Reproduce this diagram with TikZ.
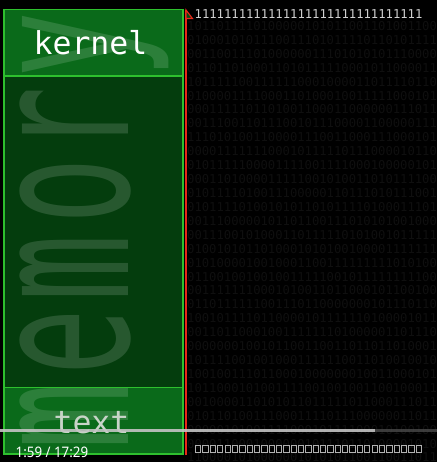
\documentclass[tikz,border=0pt]{standalone}
\usepackage{fontspec}
\usepackage{graphicx}
\newfontfamily\monofont{DejaVu Sans Mono}
\newfontfamily\uifont{Noto Sans}
\definecolor{bgblack}{HTML}{000000}
\definecolor{boxlight}{HTML}{0A6A1A}
\definecolor{boxdark}{HTML}{043D0D}
\definecolor{boxedge}{HTML}{2EC02E}
\definecolor{redline}{HTML}{E8281A}
\definecolor{digdim}{HTML}{0F0F0F}
\definecolor{onesgrey}{HTML}{D0D0D0}
\definecolor{textgrey}{HTML}{C8D4C8}
\definecolor{barlight}{HTML}{C4C4C4}
\definecolor{bardark}{HTML}{4A4A4A}
\tikzset{
  region/.style={draw=boxedge, line width=1.4pt},
  bgdig/.style={font=\monofont\fontsize{12.2}{12.2}\selectfont, text=digdim, inner sep=0pt, anchor=west},
  onesrow/.style={font=\monofont\fontsize{12.2}{12.2}\selectfont, text=onesgrey, inner sep=0pt, anchor=west},
  label/.style={font=\monofont\fontsize{31.5}{31.5}\selectfont, inner sep=0pt, anchor=base},
  bigletter/.style={rotate=90, anchor=base, inner sep=0pt, text=white, text opacity=0.14,
      font=\monofont\fontsize{194}{194}\selectfont},
  tofu/.style={draw=onesgrey!85!black, line width=0.8pt},
}
\begin{document}
\begin{tikzpicture}[x=1pt,y=-1pt]
\useasboundingbox (0,0) rectangle (437,462);
\fill[bgblack] (0,0) rectangle (437,462);
% faint binary background
\pgfmathsetseed{7}
\foreach \r in {0,...,31}{
  \gdef\rowstr{}
  \foreach \c in {1,...,34}{\pgfmathrandominteger{\dd}{0}{1}\xdef\rowstr{\rowstr\dd}}
  \node[bgdig] (bg\r) at (187, 26+13.92*\r) {\rowstr};
}
% memory regions
\fill[boxlight] (4,9.3) rectangle (183,76);
\fill[boxdark] (4,76) rectangle (183,387.7);
\fill[boxlight] (4,387.7) rectangle (183,454);
% big rotated word "memory", read from bottom to top
\node[bigletter] (lm1) at (128,416.5) {\scalebox{0.57}[1]{m}};
\node[bigletter] (le)  at (128,342)   {\scalebox{0.57}[1]{e}};
\node[bigletter] (lm2) at (128,268.5) {\scalebox{0.57}[1]{m}};
\node[bigletter] (lo)  at (128,191)   {\scalebox{0.57}[1]{o}};
\node[bigletter] (lr)  at (128,120)   {\scalebox{0.57}[1]{r}};
\node[bigletter] (ly)  at (128,45.5)  {\scalebox{0.57}[1]{y}};
\draw[region] (4,9.3) rectangle (183,76);
\draw[region] (4,76) rectangle (183,387.7);
\draw[region] (4,387.7) rectangle (183,454);
\node[label, text=white] (kernel) at (90.5,55) {kernel};
\node[label, text=textgrey] (textseg) at (91.5,433) {text};
% red pointer line
\coordinate (ptop) at (186,10);
\coordinate (pbot) at (186,454.5);
\draw[redline, line width=2pt] (ptop) -- (pbot);
\draw[redline, line width=1.1pt, fill=boxlight!70!black, line join=miter] (186,10) -- (192.5,18.5) -- (186,18.5) -- cycle;
% top row of ones
\node[onesrow] (ones) at (194.5,14.5) {1111111111111111111111111111111};
% bottom row of missing-glyph boxes
\foreach \i in {0,...,30}{
  \draw[tofu] (195.5+7.35*\i,445.7) rectangle ++(5.3,6.8);
}
% player overlay
\fill[barlight, opacity=0.9] (0,429.3) rectangle (375,432.3);
\fill[bardark, opacity=0.8] (375,429.3) rectangle (437,432.3);
\node[anchor=base west, inner sep=0pt, text=white, font=\uifont\fontsize{14.5}{14.5}\selectfont] (clock) at (15.5,457.3)
  {\scalebox{0.92}[1]{1:59 / 17:29}};
\end{tikzpicture}
\end{document}
